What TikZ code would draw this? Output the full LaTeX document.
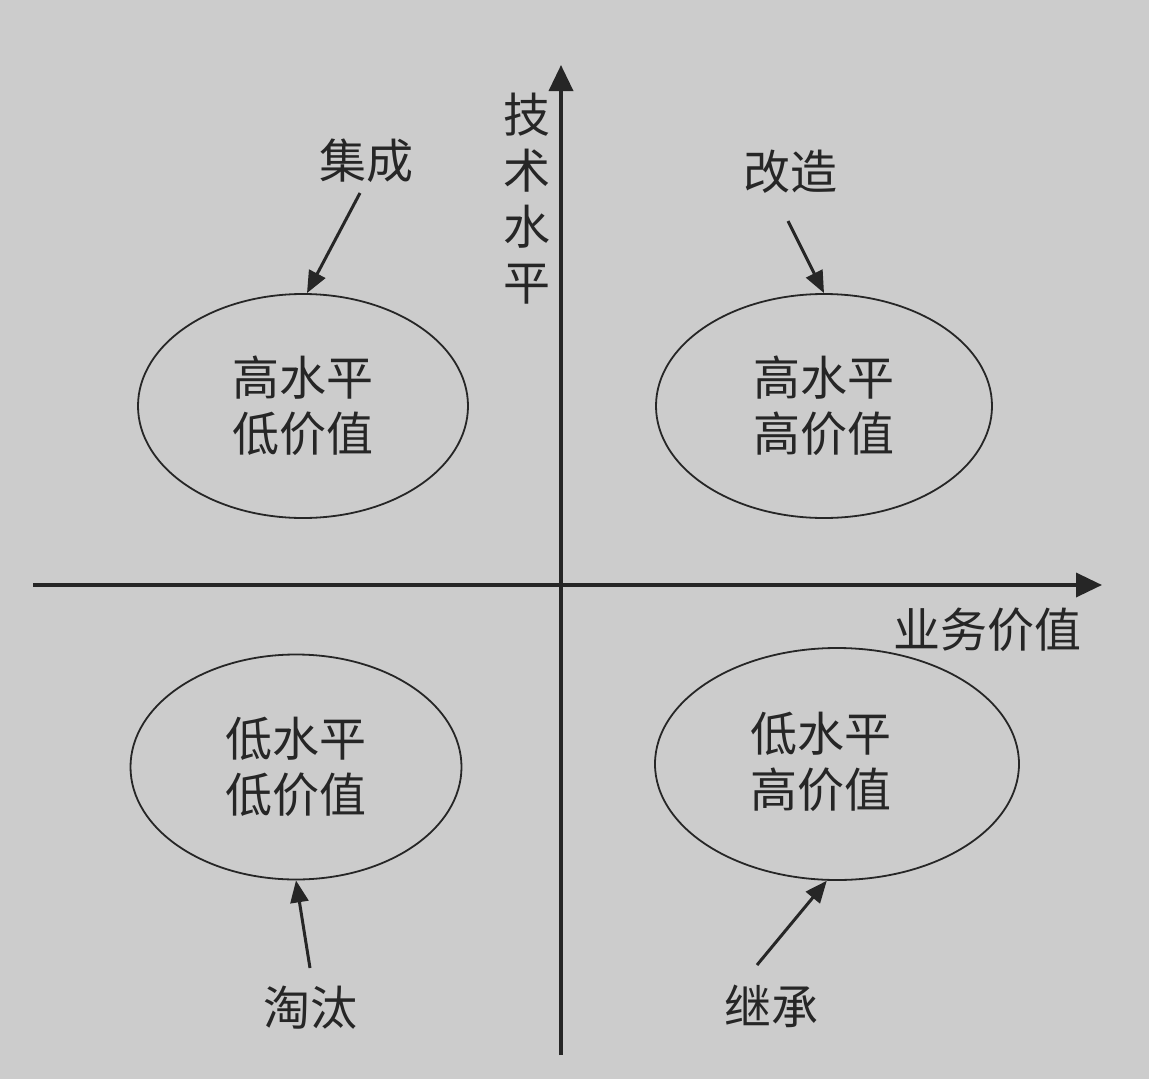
\documentclass[tikz,border=0pt]{standalone}
\usepackage{fontspec}
\setmainfont{Noto Sans CJK SC}
\usetikzlibrary{shapes.geometric,arrows.meta}
\definecolor{paper}{RGB}{204,204,204}
\definecolor{ink}{RGB}{38,38,38}
\begin{document}
\begin{tikzpicture}[x=1pt,y=-1pt,
  axis/.style={line width=3.6pt, draw=ink, -{Triangle[length=26pt,width=24pt]}},
  quad/.style={ellipse, draw=ink, line width=1.8pt, inner sep=0pt, align=center,
    text=ink, font=\fontsize{47}{56}\selectfont},
  lbl/.style={inner sep=0pt, text=ink, align=center, font=\fontsize{47}{56}\selectfont},
  ptr/.style={line width=3pt, draw=ink, -{Triangle[length=22pt,width=18pt]}}]

% paper
\fill[paper] (0,0) rectangle (1149,1079);
\useasboundingbox (0,0) rectangle (1149,1079);

% axes
\coordinate (ybot) at (561,1055);
\coordinate (ytop) at (561,65);
\coordinate (xleft) at (33,585);
\coordinate (xright) at (1102,585);
\draw[axis] (ybot) -- (ytop);
\draw[axis] (xleft) -- (xright);

\node[lbl] (ylab) at (527,199) {技\\术\\水\\平};
\node[lbl] (xlab) at (987,630) {业务价值};

% quadrants
\node[quad, minimum width=330pt, minimum height=224pt] (tl) at (303,406) {高水平\\低价值};
\node[quad, minimum width=336pt, minimum height=224pt] (tr) at (824,406) {高水平\\高价值};
\node[quad, minimum width=331pt, minimum height=225pt] (bl) at (296,767) {低水平\\低价值};
\node[quad, minimum width=364pt, minimum height=232pt] (br) at (837,764) {};
\node[lbl] (brt) at (821,762) {低水平\\高价值};

% strategy labels
\node[lbl] (jc) at (366,161) {集成};
\node[lbl] (gz) at (790,172) {改造};
\node[lbl] (tt) at (310,1008) {淘汰};
\node[lbl] (jch) at (771,1006) {继承};

\coordinate (jcT) at (360,193);
\coordinate (gzT) at (788,221);
\coordinate (ttT) at (310,968);
\coordinate (jchT) at (757,965);

\draw[ptr] (jcT) -- (tl.north -| 307,0);
\draw[ptr] (gzT) -- (tr.north);
\draw[ptr] (ttT) -- (bl.south);
\draw[ptr] (jchT) -- (br.265);
\end{tikzpicture}
\end{document}
